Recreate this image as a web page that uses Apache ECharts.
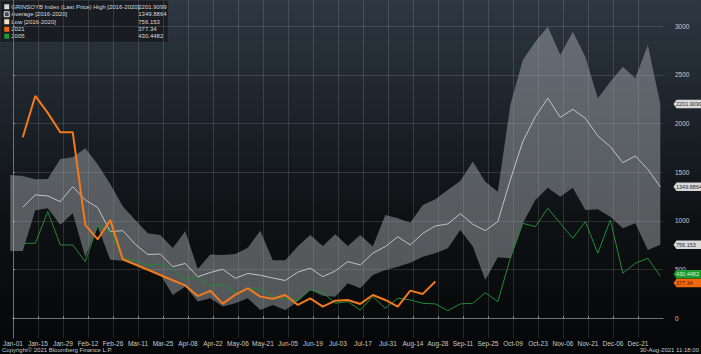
<!DOCTYPE html>
<html><head><meta charset="utf-8">
<script src="https://cdn.jsdelivr.net/npm/echarts@6/dist/echarts.min.js"></script>
<style>html,body{margin:0;padding:0;background:#000;overflow:hidden}#c{width:701px;height:354px}</style>
</head><body><div id="c"></div>
<script>
// ---- data ----
const tickLabels = ['Jan-01','Jan-15','Jan-29','Feb-12','Feb-26','Mar-11','Mar-25','Apr-08','Apr-22','May-06','May-21','Jun-05','Jun-19','Jul-03','Jul-17','Jul-31','Aug-14','Aug-28','Sep-11','Sep-25','Oct-09','Oct-23','Nov-06','Nov-21','Dec-06','Dec-21'];
const yTicks = [0, 500, 1000, 1500, 2000, 2500, 3000];
const high = [1472,1462,1428,1430,1637,1654,1747,1580,1380,1150,1010,873,856,722,895,505,655,650,660,725,900,595,595,740,856,743,863,743,856,736,1061,1027,982,1164,1223,1318,1410,1610,1403,1301,2190,2654,2842,2996,2705,2945,2688,2260,2431,2585,2466,2808,2201.9099];
const low = [690,690,1110,1130,960,1080,630,940,600,590,545,495,450,240,325,171,205,120,154,205,85,137,85,171,291,230,222,360,308,445,496,530,571,633,668,719,907,736,394,627,616,976,1215,1342,1249,1342,1113,1120,1044,925,976,702,756.153];
const avg = [null,1140,1267,1257,1198,1352,1215,1136,890,900,760,655,660,530,563,426,470,503,411,460,442,413,388,474,514,427,486,582,548,668,736,838,753,873,948,969,1075,965,900,993,1421,1815,2071,2260,2065,2147,2055,1873,1763,1599,1668,1531,1349.8864];
const y2021 = [null,1860,2284,2110,1911,1911,959,811,1008,606,552,498,444,390,337,228,282,150,242,308,222,200,239,137,205,120,181,188,147,239,188,120,284,250,377.34];
const y2005 = [null,770,770,1096,753,753,582,959,890,620,590,540,560,500,400,420,330,350,260,300,300,220,200,188,291,263,154,171,85,222,103,205,188,154,147,78,147,154,263,171,616,976,941,1130,976,822,993,668,1010,462,565,616,430.4482];
const legendNames = ['GRINSOYB Index (Last Price) High [2016-2020]','Average [2016-2020]','Low [2016-2020]','2021','2005'];

// day-of-year position of each weekly observation
const weekDay = high.map((_, i) => i * 7 - 1.5);
const pairs = arr => arr.map((v, i) => [weekDay[i], v]);
const last = arr => arr[arr.length - 1];

const FONT = 'Liberation Sans, Arial, sans-serif';
const chart = echarts.init(document.getElementById('c'), null, {renderer: 'svg'});

const tagPath = 'path://M0,4 L3,0 L31,0 L31,8 L3,8 Z';
function tag(val, bg, fg, dy) {
  return {
    coord: [364, val], value: val,
    symbol: tagPath, symbolSize: [31, 8.5], symbolKeepAspect: false,
    symbolOffset: [26, dy || 0],
    itemStyle: {color: bg},
    label: {show: true, position: 'insideLeft', distance: 2.5, color: fg, fontSize: 5.5, lineHeight: 6, fontFamily: FONT,
            formatter: () => String(val)}
  };
}

const bandData = high.map((h, i) => [weekDay[i], h, low[i]]);
const legendRowY = [3.5, 11, 18.5, 26, 33];
const legendValues = [last(high), last(avg), last(low), last(y2021), last(y2005)];
const legendSwatches = [
  {fill: '#d6d6d6'}, {fill: '#3a4a5a', stroke: '#e0e0e0', lineWidth: 1}, {fill: '#f3dcc6'},
  {fill: '#f06a0c'}, {fill: '#1f9a32'}
];
const legendChildren = [{type: 'rect', shape: {x: 0, y: 0, width: 168, height: 42},
  style: {fill: 'rgba(24,27,31,0.92)', stroke: '#3a3f45', lineWidth: 0.5}}];
legendNames.forEach((n, i) => {
  legendChildren.push({type: 'rect', shape: {x: 4, y: legendRowY[i] + 0.5, width: 5, height: 5}, style: legendSwatches[i]});
  legendChildren.push({type: 'text', x: 11, y: legendRowY[i], style: {text: n, fill: '#d8d8d8', fontSize: 6, fontFamily: FONT}});
  legendChildren.push({type: 'text', x: 138, y: legendRowY[i], style: {text: String(legendValues[i]), fill: '#d8d8d8', fontSize: 6, fontFamily: FONT}});
});

const option = {
  animation: false,
  backgroundColor: {type: 'linear', x: 0, y: 0, x2: 0, y2: 1,
    colorStops: [{offset: 0, color: '#2e3843'}, {offset: 0.3, color: '#1d242b'}, {offset: 0.6, color: '#0f1215'}, {offset: 1, color: '#050607'}]},
  grid: {left: 10.7, right: 38, top: 0, bottom: 16, containLabel: false},
  xAxis: {
    type: 'value', min: 0, max: 364, interval: 14,
    axisLine: {show: true, lineStyle: {color: '#6d7175', width: 1}},
    axisTick: {show: true, inside: true, length: 2, lineStyle: {color: '#9a9a9a'}},
    axisLabel: {color: '#c9c9c9', fontSize: 6.5, fontFamily: FONT, margin: 2, showMaxLabel: false,
      formatter: v => { const k = Math.round(v / 14); return (k >= 0 && k < tickLabels.length) ? tickLabels[k] : ''; }},
    splitLine: {show: true, showMaxLine: false, lineStyle: {color: 'rgba(255,255,255,0.13)', width: 1}}
  },
  yAxis: {
    type: 'value', position: 'right', offset: 9, min: -203, max: 3270,
    splitNumber: 7, minInterval: 500, maxInterval: 500,
    axisLine: {show: true, lineStyle: {color: '#6d7175'}},
    axisTick: {show: true, length: 2, lineStyle: {color: '#9a9a9a'}},
    axisLabel: {color: '#c9c9c9', fontSize: 6.5, fontFamily: FONT, margin: 3, showMinLabel: false, showMaxLabel: false,
      formatter: v => yTicks.indexOf(v) >= 0 ? String(v) : ''},
    splitLine: {show: true, showMinLine: false, showMaxLine: false, lineStyle: {color: 'rgba(255,255,255,0.13)'}}
  },
  series: [
    {name: legendNames[0], type: 'custom', data: bandData, silent: true,
     encode: {x: 0, y: [1, 2]},
     renderItem: (params, api) => {
       if (params.dataIndex !== 0) return null;
       const top = bandData.map(d => api.coord([d[0], d[1]]));
       const bot = bandData.map(d => api.coord([d[0], d[2]])).reverse();
       return {type: 'polygon', shape: {points: top.concat(bot)},
               style: {fill: 'rgba(168,171,175,0.48)'}};
     }},
    {name: legendNames[1], type: 'line', data: pairs(avg), symbol: 'none', clip: false,
     lineStyle: {color: '#c0c3c6', width: 1},
     markPoint: {data: [tag(last(high), '#d9d9d9', '#2a2a2a'), tag(last(avg), '#d9d9d9', '#2a2a2a'), tag(last(low), '#d9d9d9', '#2a2a2a')]}},
    {name: legendNames[4], type: 'line', data: pairs(y2005), symbol: 'none', clip: false,
     lineStyle: {color: '#1f8c34', width: 1},
     markPoint: {data: [tag(last(y2005), '#1f9a32', '#d8f0d0', -2)]}},
    {name: legendNames[3], type: 'line', data: pairs(y2021), symbol: 'none', clip: false,
     lineStyle: {color: '#f27a1c', width: 2},
     markPoint: {data: [tag(last(y2021), '#f06a0c', '#5a1a00', 1.5)]}}
  ],
  graphic: [
    {type: 'group', left: 0, top: 0, children: legendChildren},
    {type: 'text', left: 2, top: 347, style: {text: 'Copyright\u00A9 2021 Bloomberg Finance L.P.', fill: '#c8c8c8', fontSize: 6, fontFamily: FONT}},
    {type: 'text', right: 2, top: 347, style: {text: '30-Aug-2021 11:18:00', fill: '#c8c8c8', fontSize: 6, fontFamily: FONT}}
  ]
};
chart.setOption(option);
</script>
</body></html>
